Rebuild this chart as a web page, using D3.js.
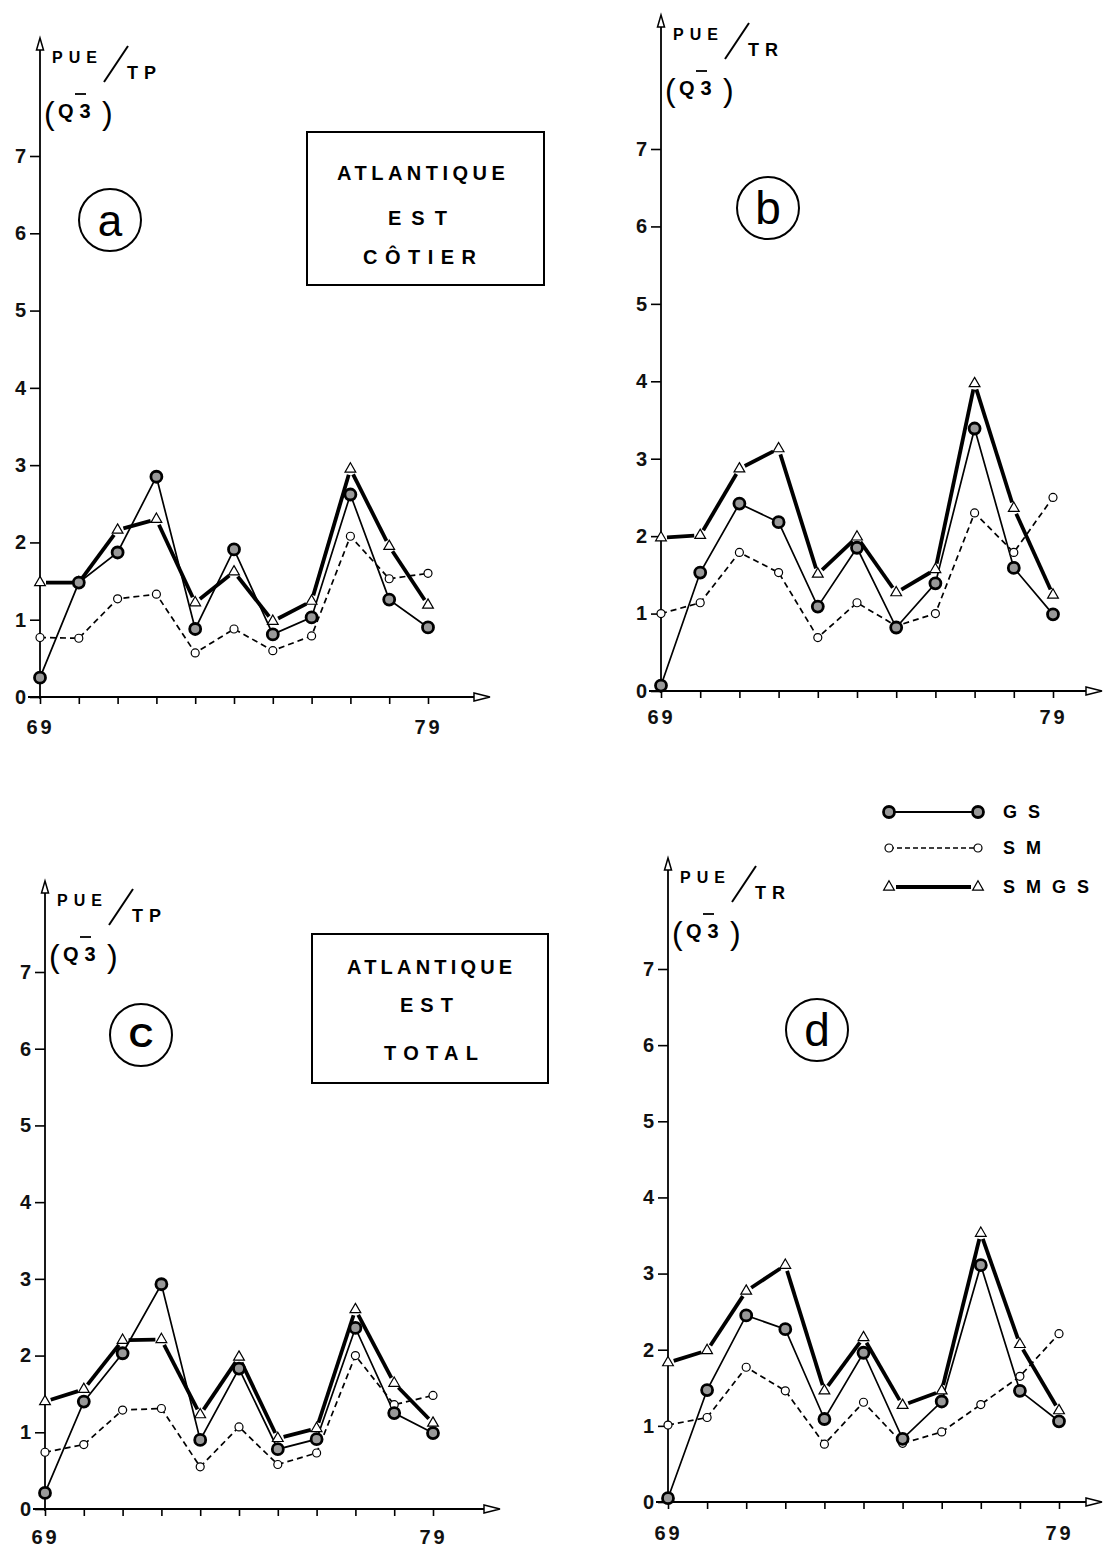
<!DOCTYPE html>
<html>
<head>
<meta charset="utf-8">
<script src="https://cdn.jsdelivr.net/npm/d3@7"></script>
<style>
  body { margin: 0; background: #fff; }
  svg { display: block; }
</style>
</head>
<body>
<div id="chart"></div>
<script>
// years on the x axis, only the ends are labelled
const years = [69, 70, 71, 72, 73, 74, 75, 76, 77, 78, 79];
const yTicks = [0, 1, 2, 3, 4, 5, 6, 7];
const xLabelled = [69, 79];

// (a) PUE/TP - Atlantique Est cotier
const gsA   = [0.25, 1.48, 1.87, 2.85, 0.88, 1.91, 0.81, 1.03, 2.62, 1.26, 0.90];
const smA   = [0.77, 0.76, 1.27, 1.33, 0.57, 0.88, 0.60, 0.79, 2.08, 1.53, 1.60];
const smgsA = [1.48, 1.48, 2.16, 2.30, 1.22, 1.62, 0.98, 1.24, 2.95, 1.95, 1.19];
// (b) PUE/TR - cotier
const gsB   = [0.07, 1.53, 2.42, 2.18, 1.09, 1.85, 0.82, 1.39, 3.39, 1.59, 0.99];
const smB   = [1.00, 1.14, 1.79, 1.53, 0.69, 1.14, 0.84, 1.00, 2.30, 1.79, 2.50];
const smgsB = [1.98, 2.01, 2.87, 3.13, 1.51, 1.99, 1.27, 1.57, 3.97, 2.36, 1.24];
// (c) PUE/TP - Atlantique Est total
const gsC   = [0.21, 1.40, 2.03, 2.93, 0.90, 1.83, 0.78, 0.91, 2.36, 1.25, 0.99];
const smC   = [0.74, 0.84, 1.29, 1.31, 0.55, 1.07, 0.58, 0.73, 2.00, 1.36, 1.48];
const smgsC = [1.40, 1.56, 2.20, 2.21, 1.23, 1.98, 0.92, 1.05, 2.60, 1.64, 1.12];
// (d) PUE/TR - total
const gsD   = [0.05, 1.47, 2.45, 2.27, 1.09, 1.96, 0.83, 1.32, 3.11, 1.46, 1.06];
const smD   = [1.01, 1.11, 1.77, 1.46, 0.76, 1.31, 0.77, 0.92, 1.28, 1.65, 2.21];
const smgsD = [1.83, 1.99, 2.77, 3.11, 1.46, 2.16, 1.27, 1.46, 3.53, 2.07, 1.20];

const seriesNames = ["G S", "S M", "S M G S"];

const W = 1105, H = 1552;
const FONT = "'Liberation Sans', Arial, sans-serif";

const svg = d3.select("#chart").append("svg")
    .attr("width", W)
    .attr("height", H)
    .attr("font-family", FONT);

// panel frames (pixel placement only)
const panels = [
  { id: "a", unit: "TP", gs: gsA, sm: smA, smgs: smgsA,
    x0: 40, x1: 428, y0: 697, y7: 156, top: 38, xEnd: 490, labOff: 37,
    letter: { x: 110, y: 220, t: "a", size: 44, weight: "normal" },
    box: { x: 307, y: 132, w: 237, h: 153,
           lines: [["ATLANTIQUE", 337, 180, 4.5], ["EST", 388, 225, 10], ["CÔTIER", 363, 264, 7.5]] } },
  { id: "b", unit: "TR", gs: gsB, sm: smB, smgs: smgsB,
    x0: 661, x1: 1053, y0: 691, y7: 149, top: 15, xEnd: 1102, labOff: 33,
    letter: { x: 768, y: 208, t: "b", size: 46, weight: "normal" } },
  { id: "c", unit: "TP", gs: gsC, sm: smC, smgs: smgsC,
    x0: 45, x1: 433, y0: 1509, y7: 972, top: 881, xEnd: 500, labOff: 35,
    letter: { x: 141, y: 1035, t: "C", size: 34, weight: "bold" },
    box: { x: 312, y: 934, w: 236, h: 149,
           lines: [["ATLANTIQUE", 347, 974, 4.2], ["EST", 400, 1012, 7], ["TOTAL", 384, 1060, 7.3]] } },
  { id: "d", unit: "TR", gs: gsD, sm: smD, smgs: smgsD,
    x0: 668, x1: 1059, y0: 1502, y7: 969, top: 858, xEnd: 1102, labOff: 38,
    letter: { x: 817, y: 1030, t: "d", size: 46, weight: "normal" } }
];

const triangle = d3.symbol().type(d3.symbolTriangle).size(50);

function gsMarker(sel) {
  sel.attr("r", 5.5).attr("fill", "#999").attr("stroke", "#000").attr("stroke-width", 2.8);
}
function smMarker(sel) {
  sel.attr("r", 4).attr("fill", "#fff").attr("stroke", "#000").attr("stroke-width", 1.2);
}
function triMarker(sel) {
  sel.attr("d", triangle).attr("fill", "#fff").attr("stroke", "#000").attr("stroke-width", 1.2);
}

function drawPanel(p) {
  const x = d3.scaleLinear().domain([69, 79]).range([p.x0, p.x1]);
  const y = d3.scaleLinear().domain([0, 7]).range([p.y0, p.y7]);
  const g = svg.append("g").attr("class", "panel-" + p.id);

  // y axis
  const ya = g.append("g")
      .attr("transform", `translate(${x(69)},0)`)
      .call(d3.axisLeft(y).tickValues(yTicks).tickSize(10).tickPadding(4).tickFormat(d3.format("d")));
  ya.select(".domain").remove();
  ya.selectAll(".tick line").attr("stroke-width", 1.6);
  ya.selectAll(".tick text")
      .attr("font-family", FONT).attr("font-size", 20).attr("font-weight", "bold")
      .attr("fill", "#111");

  // x axis
  const xa = g.append("g")
      .attr("transform", `translate(0,${y(0)})`)
      .call(d3.axisBottom(x).tickValues(years).tickSize(7).tickPadding(p.labOff - 21)
        .tickFormat(d => xLabelled.includes(d) ? String(d) : ""));
  xa.select(".domain").remove();
  xa.selectAll(".tick line").attr("stroke-width", 1.6);
  xa.selectAll(".tick text")
      .attr("font-family", FONT).attr("font-size", 20).attr("font-weight", "bold")
      .attr("letter-spacing", 3).attr("fill", "#111");

  // axis lines with open arrow heads
  g.append("line")
      .attr("x1", x(69)).attr("x2", x(69)).attr("y1", y(0) + 2).attr("y2", p.top + 10)
      .attr("stroke", "#000").attr("stroke-width", 1.8);
  g.append("path")
      .attr("d", `M${x(69)},${p.top} L${x(69) - 3.5},${p.top + 12} L${x(69) + 3.5},${p.top + 12} Z`)
      .attr("fill", "#fff").attr("stroke", "#000").attr("stroke-width", 1.5);
  g.append("line")
      .attr("x1", x(69) - 12).attr("x2", p.xEnd - 14).attr("y1", y(0)).attr("y2", y(0))
      .attr("stroke", "#000").attr("stroke-width", 1.8);
  g.append("path")
      .attr("d", `M${p.xEnd},${y(0)} L${p.xEnd - 16},${y(0) - 4} L${p.xEnd - 16},${y(0) + 4} Z`)
      .attr("fill", "#fff").attr("stroke", "#000").attr("stroke-width", 1.5);

  // axis title PUE / TP (Q-3)
  const ax = x(69), at = p.top;
  g.append("text").attr("x", ax + 12).attr("y", at + 25)
      .attr("font-size", 16).attr("font-weight", "bold").attr("letter-spacing", 6).text("PUE");
  g.append("line").attr("x1", ax + 64).attr("y1", at + 44).attr("x2", ax + 88).attr("y2", at + 8)
      .attr("stroke", "#000").attr("stroke-width", 2);
  g.append("text").attr("x", ax + 87).attr("y", at + 41)
      .attr("font-size", 18).attr("font-weight", "bold").attr("letter-spacing", 6).text(p.unit);
  g.append("text").attr("x", ax + 4).attr("y", at + 86)
      .attr("font-size", 32).attr("font-weight", "normal").text("(");
  g.append("text").attr("x", ax + 18).attr("y", at + 80)
      .attr("font-size", 20).attr("font-weight", "bold").attr("letter-spacing", 6).text("Q3");
  g.append("line").attr("x1", ax + 35).attr("y1", at + 56).attr("x2", ax + 46).attr("y2", at + 56)
      .attr("stroke", "#000").attr("stroke-width", 1.8);
  g.append("text").attr("x", ax + 62).attr("y", at + 86)
      .attr("font-size", 32).attr("font-weight", "normal").text(")");

  // circled panel letter
  g.append("circle").attr("cx", p.letter.x).attr("cy", p.letter.y).attr("r", 31)
      .attr("fill", "none").attr("stroke", "#000").attr("stroke-width", 2);
  g.append("text").attr("x", p.letter.x).attr("y", p.letter.y)
      .attr("text-anchor", "middle").attr("dominant-baseline", "central")
      .attr("font-size", p.letter.size).attr("font-weight", p.letter.weight)
      .text(p.letter.t);

  // region box
  if (p.box) {
    g.append("rect").attr("x", p.box.x).attr("y", p.box.y)
        .attr("width", p.box.w).attr("height", p.box.h)
        .attr("fill", "none").attr("stroke", "#000").attr("stroke-width", 2);
    p.box.lines.forEach(([t, tx, ty, ls]) => {
      g.append("text").attr("x", tx).attr("y", ty)
          .attr("font-size", 20).attr("font-weight", "bold").attr("letter-spacing", ls)
          .text(t);
    });
  }

  // SMGS: heavy broken segments between triangles
  const gap = 6;
  const segs = d3.pairs(years.map((yr, i) => [x(yr), y(p.smgs[i])]));
  g.append("g").selectAll("line").data(segs).join("line")
      .each(function ([a, b]) {
        const dx = b[0] - a[0], dy = b[1] - a[1], L = Math.hypot(dx, dy);
        const ux = dx / L, uy = dy / L;
        d3.select(this)
          .attr("x1", a[0] + ux * gap).attr("y1", a[1] + uy * gap)
          .attr("x2", b[0] - ux * gap).attr("y2", b[1] - uy * gap);
      })
      .attr("stroke", "#000").attr("stroke-width", 3.8).attr("stroke-linecap", "butt");

  // GS solid thin line
  const line = d3.line().x((d, i) => x(years[i])).y(d => y(d));
  g.append("path").datum(p.gs).attr("d", line)
      .attr("fill", "none").attr("stroke", "#000").attr("stroke-width", 1.7);
  // SM dashed line
  g.append("path").datum(p.sm).attr("d", line)
      .attr("fill", "none").attr("stroke", "#000").attr("stroke-width", 1.7)
      .attr("stroke-dasharray", "6,4");

  // markers
  g.append("g").selectAll("path").data(p.smgs).join("path")
      .attr("transform", (d, i) => `translate(${x(years[i])},${y(d)})`)
      .call(triMarker);
  g.append("g").selectAll("circle").data(p.sm).join("circle")
      .attr("cx", (d, i) => x(years[i])).attr("cy", d => y(d))
      .call(smMarker);
  g.append("g").selectAll("circle").data(p.gs).join("circle")
      .attr("cx", (d, i) => x(years[i])).attr("cy", d => y(d))
      .call(gsMarker);
}

panels.forEach(drawPanel);

// legend (top right of panel d)
const leg = svg.append("g").attr("class", "legend");
const legX0 = 889, legX1 = 978, legText = 1003;
const legRows = [812, 848, 887];
const lg = leg.selectAll("g").data(seriesNames).join("g")
    .attr("transform", (d, i) => `translate(0,${legRows[i]})`);
lg.each(function (name, i) {
  const s = d3.select(this);
  if (i === 0) {
    s.append("line").attr("x1", legX0).attr("x2", legX1).attr("stroke", "#000").attr("stroke-width", 1.8);
    s.selectAll("circle").data([legX0, legX1]).join("circle").attr("cx", d => d).attr("cy", 0).call(gsMarker);
  } else if (i === 1) {
    s.append("line").attr("x1", legX0).attr("x2", legX1).attr("stroke", "#000").attr("stroke-width", 1.6)
        .attr("stroke-dasharray", "5,3");
    s.selectAll("circle").data([legX0, legX1]).join("circle").attr("cx", d => d).attr("cy", 0).call(smMarker);
  } else {
    s.append("line").attr("x1", legX0 + 7).attr("x2", legX1 - 7).attr("stroke", "#000").attr("stroke-width", 3.8);
    s.selectAll("path").data([legX0, legX1]).join("path")
        .attr("transform", d => `translate(${d},0)`).call(triMarker);
  }
  s.append("text").attr("x", legText).attr("y", 6)
      .attr("font-size", 18).attr("font-weight", "bold").attr("letter-spacing", 3)
      .text(name);
});
</script>
</body>
</html>
